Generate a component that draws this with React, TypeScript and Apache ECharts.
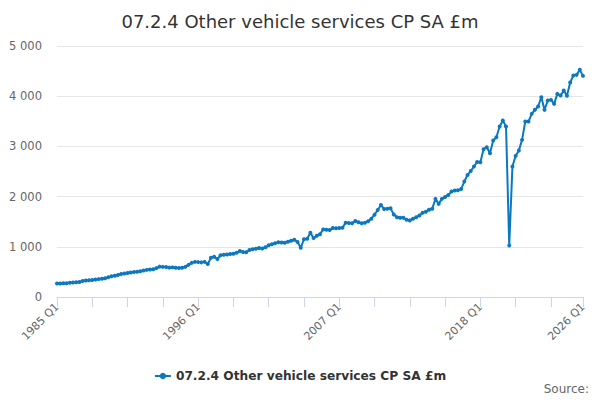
import React, { useEffect, useRef } from "react";
import * as echarts from "echarts";

const TITLE = "07.2.4 Other vehicle services CP SA £m";
const SERIES_NAME = "07.2.4 Other vehicle services CP SA £m";
const START_YEAR = 1985;
const QUARTER_COUNT = 165;
const categories: string[] = Array.from(
  { length: QUARTER_COUNT },
  (_, i) => `${START_YEAR + Math.floor(i / 4)} Q${(i % 4) + 1}`
);

const values: number[] = [
  268, 270, 272, 275, 282, 290, 295, 300, 318, 330,
  335, 340, 350, 356, 362, 372, 395, 412, 425, 440,
  458, 470, 480, 490, 500, 505, 515, 528, 540, 548,
  552, 575, 605, 600, 598, 585, 590, 582, 578, 584,
  600, 640, 680, 700, 695, 690, 700, 657, 780, 803,
  757, 830, 840, 845, 855, 860, 880, 916, 895, 890,
  936, 950, 960, 976, 965, 990, 1030, 1050, 1070, 1090,
  1085, 1080, 1100, 1120, 1140, 1095, 980, 1150, 1160, 1280,
  1173, 1220, 1250, 1347, 1340, 1333, 1373, 1370, 1375, 1380,
  1480, 1475, 1467, 1513, 1490, 1467, 1480, 1510, 1560, 1640,
  1734, 1831, 1753, 1760, 1766, 1642, 1590, 1580, 1577, 1540,
  1526, 1560, 1590, 1623, 1680, 1700, 1740, 1760, 1955, 1855,
  1955, 1990, 2030, 2100, 2121, 2125, 2150, 2300, 2430, 2510,
  2600, 2690, 2685, 2944, 2984, 2865, 3117, 3183, 3396, 3515,
  3396, 1025, 2599, 2811, 2918, 3130, 3495, 3495, 3648, 3728,
  3794, 3980, 3728, 3914, 3927, 3847, 4046, 4013, 4113, 4007,
  4272, 4412, 4425, 4525, 4405,
];

const Y_MIN = 0;
const Y_MAX = 5000;
const Y_STEP = 1000;
const LABEL_EVERY = 44;
const TICK_EVERY = 11;
const SOURCE_TEXT = "Source:";

const FONT = "'DejaVu Sans', Verdana, sans-serif";

export default function App() {
  const ref = useRef<HTMLDivElement>(null);
  useEffect(() => {
    if (!ref.current) return;
    const chart = echarts.init(ref.current, undefined, { renderer: "svg" });
    const last = categories.length - 1;
    chart.setOption({
      animation: false,
      backgroundColor: "#ffffff",
      textStyle: { fontFamily: FONT },
      title: {
        text: TITLE,
        left: "center",
        top: 7,
        textStyle: { fontFamily: FONT, fontSize: 18, fontWeight: "normal", color: "#333333" },
      },
      grid: { left: 57, right: 17, top: 46, bottom: 103, containLabel: false },
      xAxis: {
        type: "category",
        data: categories,
        boundaryGap: false,
        axisLine: { lineStyle: { color: "#ccd6eb", width: 1 } },
        axisTick: {
          show: true,
          length: 10,
          interval: (i: number) => i % TICK_EVERY === 0 || i === last,
          lineStyle: { color: "#ccd6eb" },
        },
        axisLabel: {
          rotate: 45,
          interval: (i: number) => i % LABEL_EVERY === 0 || i === last,
          color: "#666666",
          fontSize: 11,
          fontFamily: FONT,
          margin: 8,
        },
        splitLine: { show: false },
      },
      yAxis: {
        type: "value",
        min: Y_MIN,
        max: Y_MAX,
        interval: Y_STEP,
        axisLine: { show: false },
        axisTick: { show: false },
        splitLine: { lineStyle: { color: "#e6e6e6", width: 1 } },
        axisLabel: {
          color: "#666666",
          fontSize: 11.5,
          fontFamily: FONT,
          margin: 15,
          formatter: (v: number) => String(v).replace(/\B(?=(\d{3})+(?!\d))/g, " "),
        },
      },
      legend: {
        top: 365,
        left: "center",
        itemWidth: 16,
        itemHeight: 8,
        textStyle: { fontFamily: FONT, fontSize: 12.2, fontWeight: "bold", color: "#333333" },
        data: [SERIES_NAME],
      },
      series: [
        {
          name: SERIES_NAME,
          type: "line",
          data: values,
          symbol: "circle",
          symbolSize: 4,
          showAllSymbol: true,
          itemStyle: { color: "#0b78c0" },
          lineStyle: { color: "#0b78c0", width: 2 },
        },
      ],
      graphic: [
        {
          type: "text",
          right: 11,
          top: 383,
          style: { text: SOURCE_TEXT, fontFamily: FONT, fontSize: 12, fill: "#666666" },
        },
      ],
    });
    return () => chart.dispose();
  }, []);
  return (
    <div
      ref={ref}
      style={{ position: "fixed", left: 0, top: 0, width: 600, height: 400 }}
    />
  );
}
